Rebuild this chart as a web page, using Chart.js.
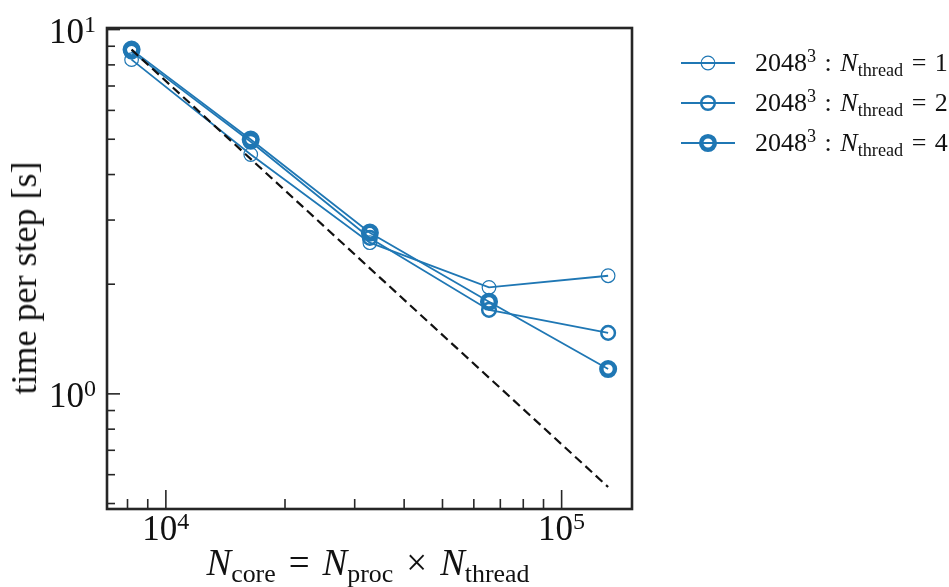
<!DOCTYPE html>
<html>
<head>
<meta charset="utf-8">
<script src="https://cdn.jsdelivr.net/npm/chart.js@4.4.0/dist/chart.umd.min.js"></script>
<style>
  html, body { margin: 0; padding: 0; background: #fff; }
  #wrap { position: relative; width: 949px; height: 587px; font-family: "Liberation Serif", "Times New Roman", serif; color: #111; }
  #wrap canvas { position: absolute; left: 0; top: 0; }
  .txt { position: absolute; white-space: nowrap; line-height: 1; }
  .txt sub { font-size: 70%; vertical-align: baseline; position: relative; top: 0.28em; }
  .txt sup { font-size: 70%; vertical-align: baseline; position: relative; top: -0.5em; }
  .op { margin: 0 13px; }
  .lop { margin: 0 2px; }
  #xTitle { font-size: 37px; left: 368px; top: 544px; transform: translateX(-50%); }
  #yTitle { font-size: 36px; left: 24px; top: 278px; transform: translate(-50%, -50%) rotate(-90deg); }
  .leg { font-size: 26px; left: 755px; }
</style>
</head>
<body>
<div id="wrap">
  <canvas id="grafico" width="949" height="587"></canvas>
  <div class="txt" id="xTitle"><i>N</i><sub>core</sub><span class="op">=</span><i>N</i><sub>proc</sub><span class="op">×</span><i>N</i><sub>thread</sub></div>
  <div class="txt" id="yTitle">time per step [s]</div>
  <div class="txt leg" style="top:50px">2048<sup>3</sup><span class="lop"> : </span><i>N</i><sub>thread</sub><span class="lop"> = </span>1</div>
  <div class="txt leg" style="top:90px">2048<sup>3</sup><span class="lop"> : </span><i>N</i><sub>thread</sub><span class="lop"> = </span>2</div>
  <div class="txt leg" style="top:130px">2048<sup>3</sup><span class="lop"> : </span><i>N</i><sub>thread</sub><span class="lop"> = </span>4</div>
</div>
<script>
// ===== Dados =====
const nCore = [8192, 16384, 32768, 65536, 131072];
const tempoThread1 = [8.27, 4.54, 2.60, 1.96, 2.11];
const tempoThread2 = [8.70, 4.92, 2.68, 1.70, 1.47];
const tempoThread4 = [8.81, 4.99, 2.77, 1.79, 1.17];

// linha ideal (tracejada)
const idealCore = [8192, 131072];
const idealTempo = [8.81, 0.555];

// ticks
const xMajorTicks = [1e4, 1e5];
const xMajorExp = ["4", "5"];
const xMinorTicks = [8000, 9000, 20000, 30000, 40000, 50000, 60000, 70000, 80000, 90000];
const yMajorTicks = [1, 10];
const yMajorExp = ["0", "1"];
const yMinorTicks = [0.5, 0.6, 0.7, 0.8, 0.9, 2, 3, 4, 5, 6, 7, 8, 9];

const AZUL = "#1f77b4";
const EIXO = "#262626";
const FONTE = '"Liberation Serif", "Times New Roman", serif';

function pontos(xs, ys) {
  return xs.map((x, i) => ({ x, y: ys[i] }));
}

function serie(label, ys, bw) {
  return {
    label,
    data: pontos(nCore, ys),
    borderColor: AZUL,
    borderWidth: 1.8,
    tension: 0,
    pointStyle: "circle",
    pointRadius: 6.8,
    pointBorderWidth: bw,
    pointBorderColor: AZUL,
    pointBackgroundColor: "rgba(0,0,0,0)",
    order: 1
  };
}

// ===== Plugin: moldura, ticks internos, rótulos e legenda =====
const molduraPlugin = {
  id: "moldura",
  afterDraw(chart) {
    const ctx = chart.ctx;
    const a = chart.chartArea;
    const xs = chart.scales.x;
    const ys = chart.scales.y;
    ctx.save();

    // ticks
    ctx.strokeStyle = EIXO;
    ctx.lineWidth = 1.6;
    const tickX = (v, len) => {
      const px = xs.getPixelForValue(v);
      ctx.beginPath(); ctx.moveTo(px, a.bottom); ctx.lineTo(px, a.bottom - len); ctx.stroke();
    };
    const tickY = (v, len) => {
      const py = ys.getPixelForValue(v);
      ctx.beginPath(); ctx.moveTo(a.left, py); ctx.lineTo(a.left + len, py); ctx.stroke();
    };
    xMinorTicks.forEach(v => tickX(v, 10));
    xMajorTicks.forEach(v => tickX(v, 19));
    yMinorTicks.forEach(v => tickY(v, 8));
    yMajorTicks.forEach(v => tickY(v, 13));

    // moldura
    ctx.lineWidth = 2.6;
    ctx.strokeRect(a.left, a.top, a.right - a.left, a.bottom - a.top);

    // rótulos "10^n"
    ctx.fillStyle = "#111";
    ctx.textBaseline = "alphabetic";
    ctx.textAlign = "left";
    const baseFont = "35px " + FONTE;
    const expFont = "24px " + FONTE;
    const medir = (exp) => {
      ctx.font = baseFont; const w1 = ctx.measureText("10").width;
      ctx.font = expFont; const w2 = ctx.measureText(exp).width;
      return [w1, w2];
    };
    const rotulo = (x0, base, exp, w1) => {
      ctx.font = baseFont; ctx.fillText("10", x0, base);
      ctx.font = expFont; ctx.fillText(exp, x0 + w1, base - 11);
    };
    xMajorTicks.forEach((v, i) => {
      const [w1, w2] = medir(xMajorExp[i]);
      const px = xs.getPixelForValue(v);
      rotulo(px - (w1 + w2) / 2, a.bottom + 31, xMajorExp[i], w1);
    });
    yMajorTicks.forEach((v, i) => {
      const [w1, w2] = medir(yMajorExp[i]);
      const py = ys.getPixelForValue(v);
      rotulo(a.left - 11 - w1 - w2, py + 13, yMajorExp[i], w1);
    });

    // legenda (marcadores)
    const linhas = [63, 103, 143];
    chart.data.datasets.slice(0, 3).forEach((ds, i) => {
      const y = linhas[i];
      ctx.strokeStyle = ds.borderColor;
      ctx.lineWidth = ds.borderWidth;
      ctx.beginPath(); ctx.moveTo(681, y); ctx.lineTo(735, y); ctx.stroke();
      ctx.lineWidth = ds.pointBorderWidth;
      ctx.beginPath(); ctx.arc(708, y, ds.pointRadius, 0, Math.PI * 2); ctx.stroke();
    });

    ctx.restore();
  }
};

const grafico = new Chart(document.getElementById("grafico").getContext("2d"), {
  type: "line",
  data: {
    datasets: [
      serie("2048^3 : N_thread = 1", tempoThread1, 1.2),
      serie("2048^3 : N_thread = 2", tempoThread2, 2.5),
      serie("2048^3 : N_thread = 4", tempoThread4, 4.5),
      {
        label: "ideal",
        data: pontos(idealCore, idealTempo),
        borderColor: "#111",
        borderWidth: 2.2,
        borderDash: [9, 5],
        pointRadius: 0,
        tension: 0,
        order: 0
      }
    ]
  },
  options: {
    responsive: false,
    animation: false,
    layout: { padding: { left: 107, right: 317, top: 28, bottom: 78 } },
    plugins: { legend: { display: false }, tooltip: { enabled: false } },
    scales: {
      x: { type: "logarithmic", min: 7100, max: 150600, display: false },
      y: { type: "logarithmic", min: 0.483, max: 10.1, display: false }
    }
  },
  plugins: [molduraPlugin]
});
</script>
</body>
</html>
